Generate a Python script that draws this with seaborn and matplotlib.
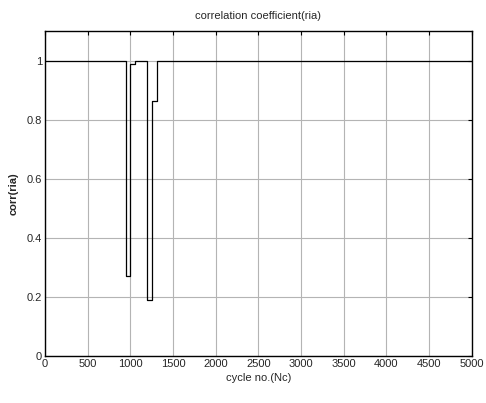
import matplotlib
matplotlib.use("Agg")
import matplotlib.pyplot as plt
import seaborn as sns
import pandas as pd

# Correlation coefficient per cycle (step changes)
cycles = [0, 950, 995, 1050, 1200, 1250, 1310, 5000]
corr = [1.0, 0.27, 0.99, 1.0, 0.19, 0.865, 1.0, 1.0]
xticks = [0, 500, 1000, 1500, 2000, 2500, 3000, 3500, 4000, 4500, 5000]
yticks = [0, 0.2, 0.4, 0.6, 0.8, 1]
ytick_labels = ["0", "0.2", "0.4", "0.6", "0.8", "1"]

sns.set_style("white")
plt.rcParams["font.family"] = ["Liberation Sans", "DejaVu Sans"]

df = pd.DataFrame({"cycle": cycles, "corr": corr})

fig = plt.figure(figsize=(4.86, 4.03), dpi=100)
ax = fig.add_axes([0.0926, 0.117, 0.878, 0.805])

sns.lineplot(data=df, x="cycle", y="corr", ax=ax, color="black",
             linewidth=0.9, drawstyle="steps-post", zorder=3)

ax.set_xlim(0, 5000)
ax.set_ylim(0, 1.1)
ax.set_xticks(xticks)
ax.set_xticklabels([str(t) for t in xticks])
ax.set_yticks(yticks)
ax.set_yticklabels(ytick_labels)
ax.grid(True, color="#b4b4b4", linewidth=0.8, linestyle="-")
ax.tick_params(direction="in", length=3, labelsize=8, color="black",
               top=True, right=True, pad=2)
for s in ax.spines.values():
    s.set_visible(True)
    s.set_color("black")
    s.set_linewidth(1.0)

ax.set_xlabel("cycle no.(Nc)", fontsize=8, labelpad=3)
ax.set_ylabel("corr(ria)", fontsize=8, fontweight="bold", labelpad=6)
ax.set_title("correlation coefficient(ria)", fontsize=8, pad=9)

fig.savefig("out.png", dpi=100, facecolor="white")
